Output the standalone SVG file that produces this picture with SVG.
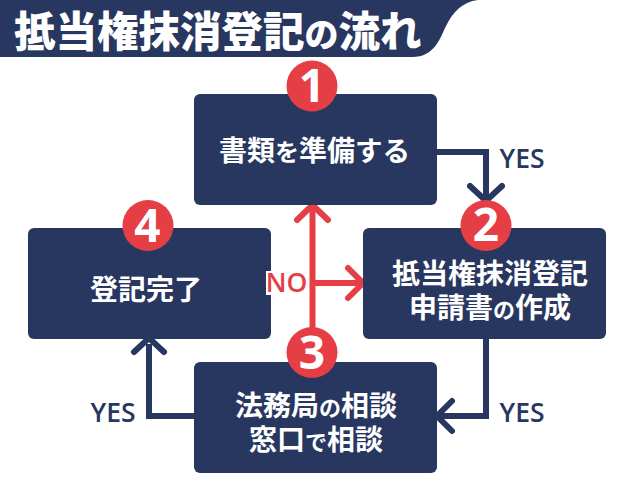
<svg xmlns="http://www.w3.org/2000/svg" width="633" height="500" viewBox="0 0 633 500">
<style>
.box{fill:#28375f}
.badge{fill:#e53e44}
.num{font:700 46px "Open Sans","Noto Sans",sans-serif;fill:#fff;text-anchor:middle}
.t{font:700 28px "Noto Sans CJK JP",sans-serif;fill:#fff;text-anchor:middle}
.lab{font:600 26.5px "Open Sans","Noto Sans",sans-serif;text-anchor:middle;fill:#28375f}
.navy{fill:none;stroke:#28375f;stroke-width:6}
.red{fill:none;stroke:#e53e44;stroke-width:6}
.head{stroke-linecap:round;stroke-linejoin:miter}
</style>
<rect width="633" height="500" fill="#fff"/>
<g id="title">
<path class="box" d="M0 0H478C462 2 453 12 446 26C440 38 435 57 412 57H0Z"/>
<text x="14" y="47" style="font:900 41.5px 'Noto Sans CJK JP',sans-serif;fill:#fff">抵当権抹消登記<tspan font-size="34px">の</tspan>流れ</text>
</g>
<g id="connectors">
<path class="navy" d="M437 152H486V200"/>
<path class="navy head" d="M470 186L486 201L502 186"/>
<path class="navy" d="M486 338V416H440"/>
<path class="navy head" d="M452 401L437 416L452 431"/>
<path class="navy" d="M194 416H149V344"/>
<path class="navy head" d="M134 352L149 338L164 352"/>
<path class="red" d="M312.500 330V208"/>
<path class="red head" d="M297 220L312.500 205L328 220"/>
<path class="red" d="M313 283H360"/>
<path class="red head" d="M348 268L363 283L348 298"/>
</g>
<g id="node1"><rect class="box" x="194" y="94" width="243" height="111" rx="6"/><circle class="badge" cx="312" cy="86" r="25.500"/><text class="num" x="312" y="102">1</text><text class="t" x="314.500" y="161">書類<tspan font-size="24px">を</tspan>準備<tspan font-size="27.500px">する</tspan></text></g>
<g id="node2"><rect class="box" x="363" y="228" width="243" height="111" rx="6"/><circle class="badge" cx="486" cy="225.500" r="25.500"/><text class="num" x="486" y="241">2</text><text class="t" x="490" y="284">抵当権抹消登記</text><text class="t" x="490" y="318">申請書<tspan font-size="22px">の</tspan>作成</text></g>
<g id="node3"><rect class="box" x="194" y="362" width="243" height="111" rx="6"/><circle class="badge" cx="312" cy="352.500" r="25.500"/><text class="num" x="312" y="369">3</text><text class="t" x="316" y="416">法務局<tspan font-size="22px">の</tspan>相談</text><text class="t" x="316" y="450">窓口<tspan font-size="22px">で</tspan>相談</text></g>
<g id="node4"><rect class="box" x="28" y="228" width="243" height="111" rx="6"/><circle class="badge" cx="148" cy="225.500" r="25.500"/><text class="num" x="147.500" y="242">4</text><text class="t" x="146" y="300">登記完了</text></g>
<g id="labels">
<text class="lab" x="522" y="168">YES</text>
<text class="lab" x="522" y="422">YES</text>
<text class="lab" x="113" y="422">YES</text>
<rect x="266" y="271" width="42" height="24" fill="#fff"/>
<text class="lab" x="286.500" y="292" style="fill:#e53e44">NO</text>
</g>
</svg>
